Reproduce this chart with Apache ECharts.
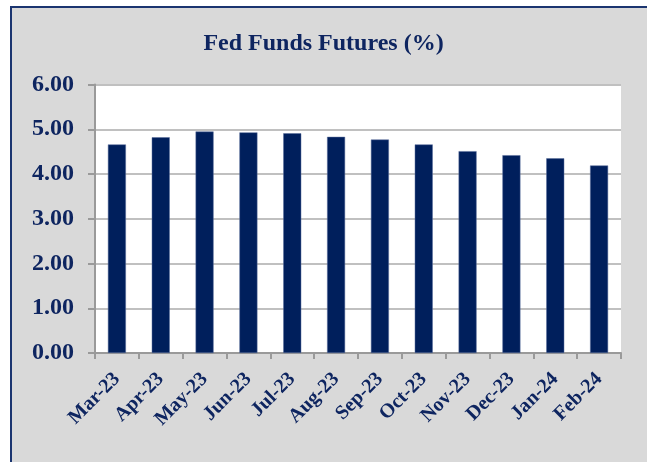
<!DOCTYPE html>
<html>
<head>
<meta charset="utf-8">
<script src="https://cdn.jsdelivr.net/npm/echarts@6/dist/echarts.min.js"></script>
<style>
  html, body { margin: 0; padding: 0; background: #fff; overflow: hidden; }
  #frame {
    position: absolute; left: 10px; top: 6px; width: 700px; height: 520px;
    background: #d9d9d9; border: 2px solid #1b3570;
  }
  #chart { position: absolute; left: 0; top: 0; width: 647px; height: 462px; }
</style>
</head>
<body>
<div id="frame"></div>
<div id="chart"></div>
<script>
  const months = ["Mar-23", "Apr-23", "May-23", "Jun-23", "Jul-23", "Aug-23",
    "Sep-23", "Oct-23", "Nov-23", "Dec-23", "Jan-24", "Feb-24"];
  const futures = [4.66, 4.82, 4.95, 4.93, 4.91, 4.83, 4.77, 4.66, 4.51, 4.42, 4.35, 4.19];

  const navy = "#0e2560";
  const font = "'Liberation Serif', 'Times New Roman', serif";

  const chart = echarts.init(document.getElementById("chart"));
  chart.setOption({
    backgroundColor: "transparent",
    animation: false,
    title: {
      text: "Fed Funds Futures (%)",
      left: "center",
      top: 27,
      textStyle: { fontFamily: font, fontWeight: "bold", fontSize: 24, color: navy }
    },
    grid: {
      left: 95, right: 26, top: 84.5, bottom: 109,
      containLabel: false, outerBoundsMode: "none",
      show: true, backgroundColor: "#fff", borderWidth: 0
    },
    xAxis: {
      type: "category",
      data: months,
      axisLine: { lineStyle: { color: "#9a9a9a", width: 2 } },
      axisTick: { show: true, length: 6, alignWithLabel: false, lineStyle: { color: "#9a9a9a", width: 2 } },
      axisLabel: {
        rotate: 45, margin: 23, interval: 0,
        fontFamily: font, fontWeight: "bold", fontSize: 20, color: navy
      }
    },
    yAxis: {
      type: "value",
      min: 0, max: 6, interval: 1,
      axisLine: { show: true, lineStyle: { color: "#9a9a9a", width: 2 } },
      axisTick: { show: true, length: 7, lineStyle: { color: "#9a9a9a", width: 2 } },
      splitLine: { lineStyle: { color: "#c0c0c0", width: 2 } },
      axisLabel: {
        margin: 21,
        formatter: (v) => v.toFixed(2),
        fontFamily: font, fontWeight: "bold", fontSize: 24, color: navy
      }
    },
    series: [{
      type: "bar",
      data: futures,
      barWidth: 18,
      itemStyle: { color: "#001f5c", borderColor: "#5a6f9c", borderWidth: 0.5 }
    }]
  });
</script>
</body>
</html>
